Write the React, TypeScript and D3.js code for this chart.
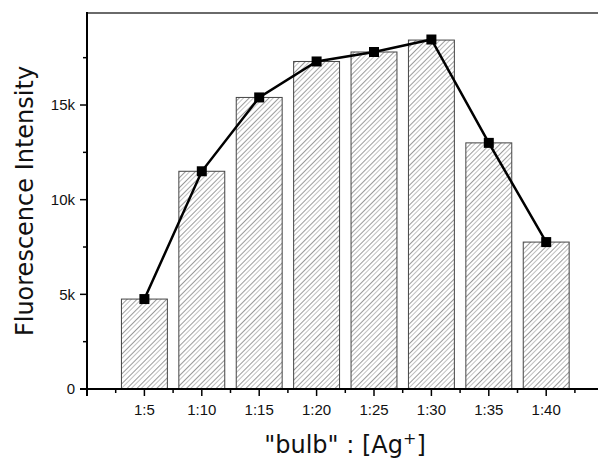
import React from "react";
import * as d3 from "d3";

const categories = ["1:5", "1:10", "1:15", "1:20", "1:25", "1:30", "1:35", "1:40"];
const barValues = [4750, 11500, 15400, 17300, 17800, 18430, 13000, 7760];
const lineValues = [4750, 11500, 15400, 17300, 17800, 18460, 13000, 7760];
const yMajorTicks = [0, 5000, 10000, 15000];
const yMinorTicks = [2500, 7500, 12500, 17500];

const W = 598;
const H = 461;
const axisLeft = 87;
const axisBottom = 389;
const axisTop = 13;
const step = 57.4;

export default function App() {
  const x = d3.scaleLinear().domain([0, 9]).range([axisLeft, axisLeft + 9 * step]);
  const y = d3.scaleLinear().domain([0, 19860]).range([axisBottom, axisTop]);
  const barW = step * 0.8;
  const fmt = (v: number) => (v === 0 ? "0" : `${v / 1000}k`);
  const line = d3
    .line<number>()
    .x((_, i) => x(i + 1))
    .y((v) => y(v));
  const minorX = d3.range(0, 9).map((i) => i + 0.5);
  const font = "Arial, 'Liberation Sans', sans-serif";
  const titleFont = "'DejaVu Sans', Verdana, sans-serif";
  const ms = 10;

  return (
    <svg
      width={W}
      height={H}
      style={{ position: "absolute", left: 0, top: 0, background: "#fff" }}
      fontFamily={font}
    >
      <defs>
        <pattern id="hatch" patternUnits="userSpaceOnUse" width="7" height="7" patternTransform="rotate(45)">
          <rect width="7" height="7" fill="#fff" />
          <line x1="0" y1="0" x2="0" y2="7" stroke="#333" strokeWidth="1" />
          <line x1="3.5" y1="0" x2="3.5" y2="7" stroke="#bbb" strokeWidth="0.9" />
        </pattern>
      </defs>
      {/* top frame */}
      <line x1={axisLeft} x2={W} y1={axisTop} y2={axisTop} stroke="#6a6a6a" strokeWidth={2} />
      {/* bars */}
      {barValues.map((v, i) => (
        <rect
          key={i}
          x={x(i + 1) - barW / 2}
          y={y(v)}
          width={barW}
          height={y(0) - y(v)}
          fill="url(#hatch)"
          stroke="#444"
          strokeWidth={1}
        />
      ))}
      {/* line */}
      <path d={line(lineValues) || ""} fill="none" stroke="#000" strokeWidth={2.5} />
      {lineValues.map((v, i) => (
        <rect key={i} x={x(i + 1) - ms / 2} y={y(v) - ms / 2} width={ms} height={ms} fill="#000" />
      ))}
      {/* y axis */}
      <line x1={axisLeft} x2={axisLeft} y1={axisTop - 1} y2={axisBottom + 7} stroke="#000" strokeWidth={2} />
      {yMajorTicks.map((t) => (
        <g key={t}>
          <line x1={axisLeft - 7} x2={axisLeft} y1={y(t)} y2={y(t)} stroke="#000" strokeWidth={1.5} />
          <text x={axisLeft - 12} y={y(t)} dy="0.35em" textAnchor="end" fontSize={15} fill="#111">
            {fmt(t)}
          </text>
        </g>
      ))}
      {yMinorTicks.map((t) => (
        <line key={t} x1={axisLeft - 4} x2={axisLeft} y1={y(t)} y2={y(t)} stroke="#000" strokeWidth={1.5} />
      ))}
      {/* x axis */}
      <line x1={axisLeft - 7} x2={W} y1={axisBottom} y2={axisBottom} stroke="#000" strokeWidth={2} />
      {categories.map((c, i) => (
        <g key={c}>
          <line x1={x(i + 1)} x2={x(i + 1)} y1={axisBottom} y2={axisBottom + 7} stroke="#000" strokeWidth={1.5} />
          <text x={x(i + 1)} y={axisBottom + 26} textAnchor="middle" fontSize={15} fill="#111">
            {c}
          </text>
        </g>
      ))}
      {minorX.map((m) => (
        <line key={m} x1={x(m)} x2={x(m)} y1={axisBottom} y2={axisBottom + 4} stroke="#000" strokeWidth={1.5} />
      ))}
      {/* titles */}
      <text
        transform={`translate(33,${(axisTop + axisBottom) / 2}) rotate(-90)`}
        textAnchor="middle"
        fontSize={24}
        fill="#111"
        fontFamily={titleFont}
      >
        Fluorescence Intensity
      </text>
      <text x={345} y={453} textAnchor="middle" fontSize={24} fill="#111" fontFamily={titleFont}>
        "bulb" : [Ag<tspan dy={-9} fontSize={16}>+</tspan>
        <tspan dy={9}>]</tspan>
      </text>
    </svg>
  );
}
